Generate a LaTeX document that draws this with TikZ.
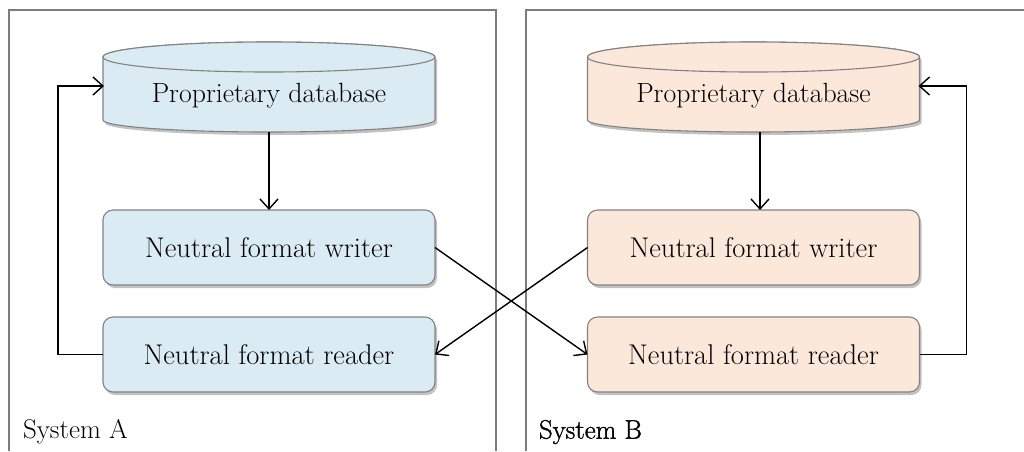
\documentclass[tikz,border=0pt]{standalone}
\usepackage{fontspec}
\usetikzlibrary{arrows.meta,shadows,calc}
\newfontfamily\heavyrm[FakeBold=1.2]{Latin Modern Roman}
\definecolor{fillA}{RGB}{219,235,243}
\definecolor{fillB}{RGB}{252,232,218}
\definecolor{edge}{RGB}{130,130,130}
\definecolor{frame}{RGB}{125,125,125}
\tikzset{
  every node/.style={inner sep=0pt, outer sep=0pt},
  boxlabel/.style={font=\fontsize{28.5}{33}\selectfont},
  dblabel/.style={font=\fontsize{27.8}{32}\selectfont},
  procbox/.style={draw=edge, line width=1.1pt, rounded corners=10pt,
    minimum width=332pt, minimum height=75pt, boxlabel,
    drop shadow={shadow xshift=2pt, shadow yshift=-3pt, opacity=0.4, fill=black!60}},
  dbframe/.style={minimum width=330pt, minimum height=92pt},
  dbshape/.style={draw=edge, line width=1.1pt,
    drop shadow={shadow xshift=2pt, shadow yshift=-3pt, opacity=0.4, fill=black!60}},
  flow/.style={draw=black, line width=1.4pt,
    -{Straight Barb[length=10pt, width=18pt, line width=1.4pt]}},
  sysframe/.style={draw=frame, line width=1.5pt},
  syslabel/.style={anchor=west, font=\fontsize{27}{31}\selectfont}
}
\begin{document}
\begin{tikzpicture}[x=1pt, y=-1pt]
  \useasboundingbox (0,0) rectangle (1024,451);

  % system frames (open at the bottom)
  \draw[sysframe] (9,451) -- (9,10) -- (496,10) -- (496,451);
  \draw[sysframe] (526,451) -- (526,10) -- (1024,10);

  % ---------- System A ----------
  \node[dbframe] (dbA) at (269,86) {};
  \path[dbshape, fill=fillA] (103,57) -- (103,120)
     arc[start angle=180, end angle=0, x radius=166, y radius=12]
     -- (435,57)
     arc[start angle=0, end angle=-180, x radius=166, y radius=15] -- cycle;
  \draw[draw=edge, line width=1.1pt, fill=fillA] (435,57)
     arc[start angle=0, end angle=360, x radius=166, y radius=15];
  \node[dblabel] (dbAtext) at (269,96) {Proprietary database};

  \node[procbox, fill=fillA] (wA) at (269,247.5) {Neutral format writer};
  \node[procbox, fill=fillA] (rA) at (269,354.5) {Neutral format reader};
  \node[syslabel] (sysA) at (23,432) {System A};

  % ---------- System B ----------
  \node[dbframe] (dbB) at (753.5,86) {};
  \path[dbshape, fill=fillB] (587.5,57) -- (587.5,120)
     arc[start angle=180, end angle=0, x radius=166, y radius=12]
     -- (919.5,57)
     arc[start angle=0, end angle=-180, x radius=166, y radius=15] -- cycle;
  \draw[draw=edge, line width=1.1pt, fill=fillB] (919.5,57)
     arc[start angle=0, end angle=360, x radius=166, y radius=15];
  \node[dblabel] (dbBtext) at (753.5,96) {Proprietary database};

  \node[procbox, fill=fillB] (wB) at (753.5,247.5) {Neutral format writer};
  \node[procbox, fill=fillB] (rB) at (753.5,354.5) {Neutral format reader};
  \node[syslabel, font=\fontsize{26.8}{31}\heavyrm] (sysB) at (539,432) {System B};

  % ---------- connectors ----------
  \draw[flow] (dbA.south) -- (wA.north);
  \draw[flow] ([xshift=6.5pt]dbB.south) -- ([xshift=6.5pt]wB.north);
  \draw[flow] (rA.west) -- ++(-45,0) |- (dbA.west);
  \draw[flow] (rB.east) -- ++(47,0) |- (dbB.east);
  \draw[flow] (wA.east) -- (rB.west);
  \draw[flow] (wB.west) -- (rA.east);
\end{tikzpicture}
\end{document}
